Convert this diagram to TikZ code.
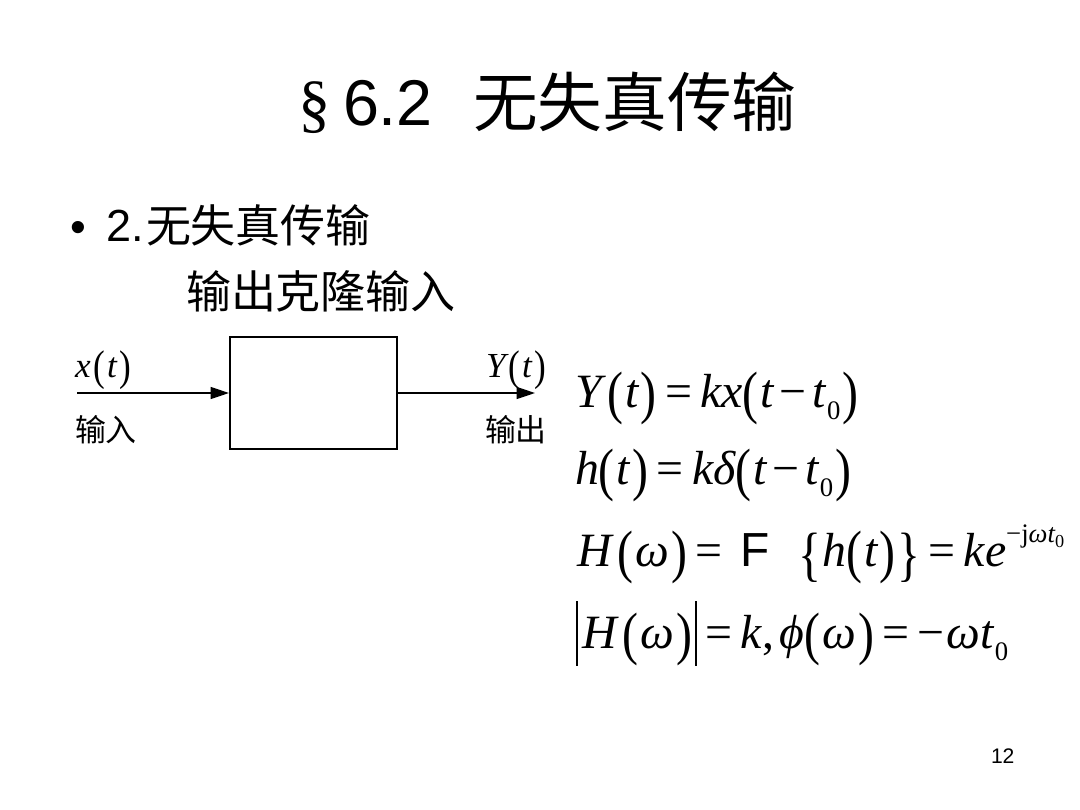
\documentclass[tikz,border=0pt]{standalone}
\usepackage{fontspec}
\usepackage{graphicx}
\usetikzlibrary{arrows.meta}
\newfontfamily\tms{Liberation Serif}
\newfontfamily\ars{Liberation Sans}
\newfontfamily\cjk{Noto Sans CJK SC}
\newcommand\eqf{\fontsize{34}{40}\selectfont\tms}
\newcommand\lbf{\fontsize{25}{28}\selectfont\tms}
\newcommand\LP{{\upshape\raisebox{-0.11em}{\scalebox{1}[1.22]{(}}}\hspace{1.5pt}}
\newcommand\RP{\hspace{1.5pt}{\upshape\raisebox{-0.11em}{\scalebox{1}[1.22]{)}}}}
\newcommand\LBr{{\upshape\raisebox{-0.17em}{\scalebox{1}[1.25]{\{}}}\hspace{1pt}}
\newcommand\RBr{\hspace{1pt}{\upshape\raisebox{-0.17em}{\scalebox{1}[1.25]{\}}}}}
\newcommand\subz{\hspace{1pt}{\upshape\raisebox{-9pt}{\fontsize{19}{20}\selectfont 0}}}
\newcommand\vbar{\rule[-0.37em]{1.4pt}{1.35em}}
\newcommand\eqs{\hspace{6pt}{\upshape=}\hspace{6pt}}
\begin{document}
\begin{tikzpicture}[x=0.025cm,y=-0.025cm,
  txt/.style={inner sep=0pt,outer sep=0pt,anchor=base west},
  sysbox/.style={draw,line width=1.4pt,minimum width=4.175cm,minimum height=2.8cm,inner sep=0pt},
  sig/.style={line width=1pt,-{Triangle[length=0.46cm,width=0.3cm]}}]
\useasboundingbox[fill=white] (0,0) rectangle (1080,810);
% title
\node[txt] (tsec) at (298,125) {\fontsize{46}{50}\selectfont\tms §};
\node[txt] (tnum) at (343,125) {\fontsize{46}{50}\selectfont\ars 6.2};
\node[txt] (tzh) at (473,126) {\fontsize{46}{50}\selectfont\cjk 无失真传输};
% bullet
\node[txt] (bul) at (70,242) {\fontsize{32}{36}\selectfont\ars •};
\node[txt] (bnum) at (106,241) {\fontsize{32}{36}\selectfont\ars 2.};
\node[txt] (bzh) at (146,242) {\fontsize{32}{36}\selectfont\cjk 无失真传输};
\node[txt] (sub) at (186,308) {\fontsize{32}{36}\selectfont\cjk 输出克隆输入};
% block diagram
\node[sysbox] (sys) at (313.5,393) {};
\coordinate (in) at (77,393);
\coordinate (out) at (535,393);
\draw[sig] (in) -- (sys.west);
\draw[sig] (sys.east) -- (out);
\node[txt] (xl) at (75,377) {\lbf\itshape x\hspace{2pt}\LP t\RP};
\node[txt] (yl) at (486,377) {\lbf\itshape Y\hspace{2pt}\LP t\RP};
\node[txt] (inl) at (75,441) {\fontsize{22}{26}\selectfont\cjk 输入};
\node[txt] (outl) at (485,441) {\fontsize{22}{26}\selectfont\cjk 输出};
% equations
\node[txt] (e1) at (575,407) {\eqf\itshape Y\hspace{4pt}\LP t\RP\eqs kx\LP t\hspace{4pt}{\upshape −}\hspace{4pt}t\subz\RP};
\node[txt] (e2) at (575,484) {\eqf\itshape h\LP t\RP\eqs kδ\LP t\hspace{4pt}{\upshape −}\hspace{4pt}t\subz\RP};
\node[txt] (e3a) at (577,566) {\eqf\itshape H\hspace{4pt}\LP ω\RP\eqs};
\node[txt] (e3b) at (740,566) {\fontsize{34}{40}\selectfont\ars F};
\node[txt] (e3c) at (798,566) {\eqf\itshape \LBr h\LP t\RP\RBr\eqs ke\raisebox{17pt}{\fontsize{19}{20}\selectfont{\upshape −j}ωt\raisebox{-4pt}{\fontsize{13}{14}\selectfont\upshape 0}}};
\node[txt] (e4) at (576,648) {\eqf\itshape \vbar\hspace{3pt}H\hspace{4pt}\LP ω\RP\hspace{2pt}\vbar\eqs k{\upshape ,}\hspace{4pt}ϕ\LP ω\RP\eqs{\upshape −}\hspace{1pt}ωt\subz};
% page number
\node[txt] (pg) at (991,763) {\fontsize{15}{18}\selectfont\ars 12};
\end{tikzpicture}
\end{document}
